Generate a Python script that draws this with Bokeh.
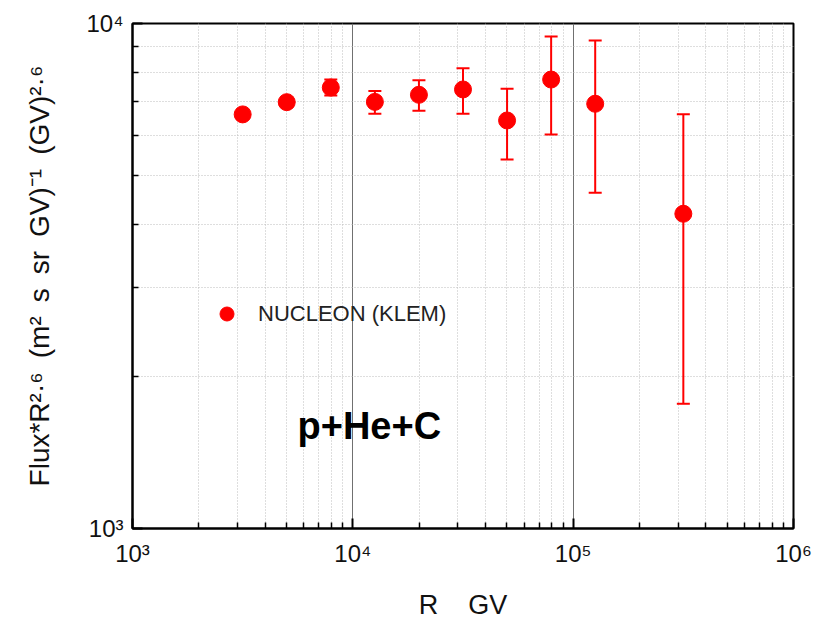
from bokeh.plotting import figure
from bokeh.models import FixedTicker, Whisker, ColumnDataSource, Legend, LegendItem, Label
from bokeh.embed import file_html
from bokeh.resources import INLINE

# ---- data ----
rigidity = [3162, 5012, 7943, 12589, 19953, 31623, 50119, 79433, 125893, 316228]
flux_r26 = [6607, 6986, 7467, 6995, 7224, 7403, 6427, 7745, 6935, 4200]
err_upper = [6750, 7130, 7745, 7355, 7723, 8157, 7425, 9425, 9254, 6612]
err_lower = [6470, 6850, 7202, 6623, 6718, 6623, 5377, 6030, 4621, 1766]
series_name = "NUCLEON (KLEM)"
panel_text = "p+He+C"
x_major = [1e3, 1e4, 1e5, 1e6]
y_major = [1e3, 1e4]
x_labels = {1e3: "10³", 1e4: "10⁴", 1e5: "10⁵", 1e6: "10⁶"}
y_labels = {1e3: "10³", 1e4: "10⁴"}

x_minor = [m * d for d in [1e3, 1e4, 1e5] for m in range(2, 10)]
y_minor = [m * 1e3 for m in range(2, 10)]

RED = "#ff0000"
SANS = "'Liberation Sans', Arial, sans-serif"
SP = "\u2002"      # en space, keeps the wide gaps of the original label
NB = "\u00a0"

p = figure(width=819, height=622, x_axis_type="log", y_axis_type="log",
           x_range=(1e3, 1e6), y_range=(1e3, 1e4),
           output_backend="svg", toolbar_location=None,
           min_border_left=132, min_border_right=26, min_border_top=23, min_border_bottom=94)
p.background_fill_color = "white"
p.border_fill_color = "white"
p.outline_line_color = "black"
p.outline_line_width = 2

xt = FixedTicker(ticks=x_major, minor_ticks=x_minor)
yt = FixedTicker(ticks=y_major, minor_ticks=y_minor)
p.xaxis.ticker = xt
p.xgrid.ticker = xt
p.yaxis.ticker = yt
p.ygrid.ticker = yt

for ax in (p.xaxis[0], p.yaxis[0]):
    ax.axis_line_color = "black"
    ax.axis_line_width = 2
    ax.major_tick_in = 10
    ax.major_tick_out = 0
    ax.minor_tick_in = 6
    ax.minor_tick_out = 0
    ax.major_tick_line_color = "black"
    ax.major_tick_line_width = 2
    ax.minor_tick_line_color = "black"
    ax.minor_tick_line_width = 1.5
    ax.major_label_text_font = SANS
    ax.major_label_text_font_size = "24px"
    ax.major_label_text_color = "#111111"
    ax.axis_label_text_font_style = "normal"
    ax.axis_label_text_color = "#111111"

p.xaxis.major_label_overrides = x_labels
p.yaxis.major_label_overrides = y_labels
p.xaxis.major_label_standoff = 11
p.yaxis.major_label_standoff = 9

p.xaxis.axis_label = "R" + NB * 4 + "GV"
p.xaxis.axis_label_text_font = SANS
p.xaxis.axis_label_text_font_size = "27px"
p.xaxis.axis_label_standoff = 20

p.yaxis.axis_label = ("Flux*R²·⁶" + SP + "(m²" + SP + "s" + SP + "sr" + SP + "GV)⁻¹"
                      + SP + "(GV)²·⁶")
p.yaxis.axis_label_text_font = SANS
p.yaxis.axis_label_text_font_size = "28px"
p.yaxis.axis_label_standoff = 28

# grids
p.xgrid.grid_line_color = "#707070"
p.xgrid.grid_line_width = 1
p.xgrid.minor_grid_line_color = "#bdbdbd"
p.xgrid.minor_grid_line_dash = "1 2"
p.xgrid.minor_grid_line_width = 1
p.ygrid.grid_line_color = None
p.ygrid.minor_grid_line_color = "#bdbdbd"
p.ygrid.minor_grid_line_dash = "1 2"
p.ygrid.minor_grid_line_width = 1

src = ColumnDataSource(dict(x=rigidity, y=flux_r26, upper=err_upper, lower=err_lower))

wh = Whisker(source=src, base="x", upper="upper", lower="lower", dimension="height",
             line_color=RED, line_width=2)
wh.upper_head.size = 13
wh.lower_head.size = 13
wh.upper_head.line_color = RED
wh.lower_head.line_color = RED
wh.upper_head.line_width = 2
wh.lower_head.line_width = 2
p.add_layout(wh)

pts = p.scatter("x", "y", source=src, size=17, marker="circle",
                fill_color=RED, line_color=RED)

legend = Legend(items=[LegendItem(label=series_name, renderers=[pts])],
                location=(77, 197), orientation="vertical",
                glyph_width=35, glyph_height=35, label_height=35,
                label_standoff=14, padding=0, margin=0, spacing=0,
                border_line_color=None, background_fill_alpha=0,
                label_text_font=SANS, label_text_font_size="22px",
                label_text_color="#222222")
p.add_layout(legend)

p.add_layout(Label(x=165, y=103, x_units="screen", y_units="screen", text=panel_text,
                   text_font=SANS, text_font_size="38px", text_font_style="bold",
                   text_color="black", text_baseline="alphabetic"))

open("out.html", "w").write(file_html(p, INLINE))
